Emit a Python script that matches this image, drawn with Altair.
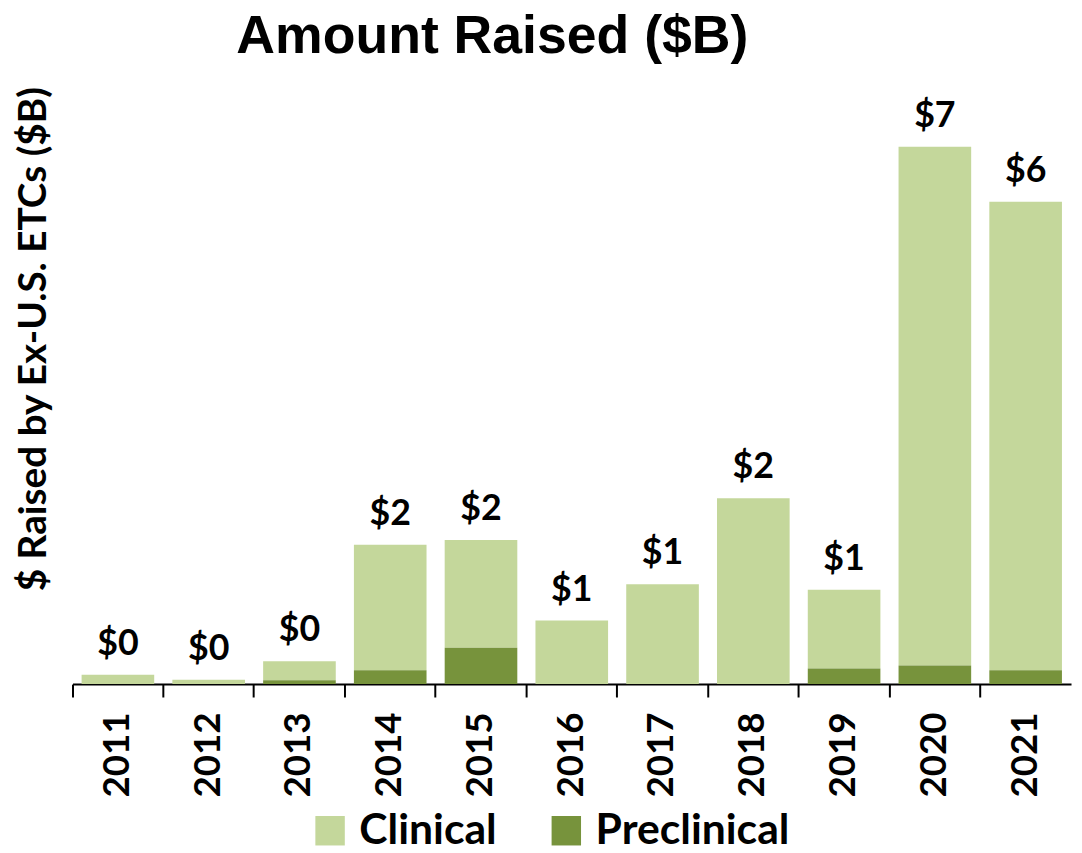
import altair as alt
import pandas as pd

years = ["2011", "2012", "2013", "2014", "2015", "2016", "2017", "2018", "2019", "2020", "2021"]
preclinical = [0.0, 0.0, 0.05, 0.18, 0.47, 0.0, 0.0, 0.0, 0.20, 0.24, 0.18]
clinical = [0.12, 0.055, 0.245, 1.62, 1.39, 0.82, 1.29, 2.40, 1.02, 6.70, 6.05]
series = ["Clinical", "Preclinical"]
colors = ["#C4D79B", "#77933C"]

rows = []
for y, c, p in zip(years, clinical, preclinical):
    rows.append({"year": y, "type": "Clinical", "value": c, "ord": 2})
    rows.append({"year": y, "type": "Preclinical", "value": p, "ord": 1})
df = pd.DataFrame(rows)

totals = pd.DataFrame({
    "year": years,
    "total": [c + p for c, p in zip(clinical, preclinical)],
})
totals["label"] = ["$" + str(int(t + 0.5)) for t in totals["total"]]

FONT = "Lato"

x_enc = alt.X(
    "year:N",
    sort=years,
    scale=alt.Scale(paddingInner=0, paddingOuter=0),
    axis=alt.Axis(
        title=None,
        labelAngle=-90,
        labelFont=FONT,
        labelFontWeight="bold",
        labelFontSize=37,
        labelColor="black",
        labelPadding=15,
        labelAlign="right",
        labelBaseline="middle",
        bandPosition=0,
        ticks=True,
        tickSize=13,
        tickWidth=2,
        tickColor="black",
        domainColor="black",
        domainWidth=2,
        grid=False,
    ),
)

bars = alt.Chart(df).mark_bar(width=alt.RelativeBandSize(0.8)).encode(
    x=x_enc,
    y=alt.Y(
        "value:Q",
        stack="zero",
        scale=alt.Scale(domain=[0, 7], nice=False),
        axis=alt.Axis(
            title="$ Raised by Ex-U.S. ETCs ($B)",
            titleFont=FONT,
            titleFontWeight="bold",
            titleFontSize=39,
            titleColor="black",
            titleX=-39,
            titleY=198,
            titleBaseline="middle",
            titleAlign="center",
            labels=False,
            ticks=False,
            domain=False,
            grid=False,
        ),
    ),
    color=alt.Color(
        "type:N",
        scale=alt.Scale(domain=series, range=colors),
        legend=alt.Legend(
            title=None,
            orient="none",
            legendX=238,
            legendY=672,
            direction="horizontal",
            symbolType="square",
            symbolSize=880,
            symbolStrokeWidth=0,
            labelFont=FONT,
            labelFontWeight="bold",
            labelFontSize=43,
            labelColor="black",
            labelLimit=400,
            labelOffset=8,
            columnPadding=48,
            padding=0,
        ),
    ),
    order=alt.Order("ord:Q"),
)

labels = alt.Chart(totals).mark_text(
    font=FONT,
    fontWeight="bold",
    fontSize=36,
    color="black",
    baseline="bottom",
    dy=-12,
).encode(
    x=alt.X("year:N", sort=years),
    y=alt.Y("total:Q"),
    text="label:N",
)

chart = alt.layer(bars, labels).properties(
    width=1006,
    height=546,
    autosize=alt.AutoSizeParams(type="none"),
    padding={"left": 65, "top": 132, "right": 3, "bottom": 167},
    title=alt.TitleParams(
        "Amount Raised ($B)",
        font="Liberation Sans",
        fontWeight="bold",
        fontSize=54,
        color="black",
        anchor="middle",
        dx=-80,
        offset=22,
    ),
).configure_view(stroke=None)

chart.save("out.html", embed_options={"renderer": "svg", "actions": False})
